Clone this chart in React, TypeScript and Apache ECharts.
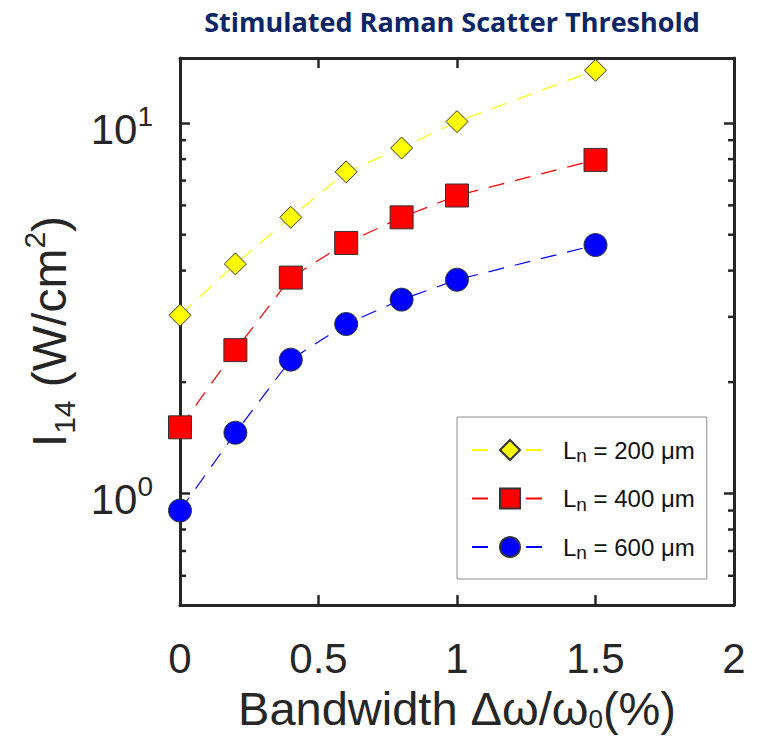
import React, { useEffect, useRef } from "react";
import * as echarts from "echarts";

const TITLE = "Stimulated Raman Scatter Threshold";
const X_VALUES = [0, 0.2, 0.4, 0.6, 0.8, 1, 1.5];
const SERIES_NAMES = ["Ln = 200 μm", "Ln = 400 μm", "Ln = 600 μm"];
const L200 = [3.03, 4.17, 5.57, 7.39, 8.57, 10.1, 13.9];
const L400 = [1.51, 2.44, 3.83, 4.75, 5.57, 6.38, 7.96];
const L600 = [0.9, 1.46, 2.3, 2.87, 3.34, 3.78, 4.69];
const X_MIN = 0;
const X_MAX = 2;
const X_INTERVAL = 0.5;
const Y_MIN = 0.5;
const Y_MAX = 15;
const MINOR_TICKS = [0.6, 0.7, 0.8, 0.9, 2, 3, 4, 5, 6, 7, 8, 9];

const FONT = "'Liberation Sans', Arial, sans-serif";
const INK = "#262626";

export default function App() {
  const ref = useRef<HTMLDivElement>(null);
  useEffect(() => {
    if (!ref.current) return;
    const chart = echarts.init(ref.current, null, { renderer: "svg" });
    const pairs = (ys: number[]) => X_VALUES.map((x, i) => [x, ys[i]]);
    const axisLine = { show: true, onZero: false, lineStyle: { color: INK, width: 3 } };
    const majorTick = { show: true, inside: true, length: 10, lineStyle: { color: INK, width: 2.5 } };
    const yFormatter = (v: number) => {
      const l = Math.log10(v);
      const e = Math.round(l);
      if (Math.abs(l - e) < 1e-6) return `10{sup|${e}}`;
      return "";
    };
    const mk = (name: string, ys: number[], color: string, symbol: string, size: number) => ({
      type: "line",
      name,
      data: pairs(ys),
      xAxisIndex: 0,
      yAxisIndex: 0,
      symbol,
      symbolSize: size,
      showSymbol: true,
      clip: false,
      lineStyle: { color, width: 1.2, type: [16, 11] },
      itemStyle: { color, borderColor: "#333333", borderWidth: 1 },
      z: 6,
    });
    const option: any = {
      animation: false,
      backgroundColor: "#ffffff",
      graphic: [
        {
          type: "text",
          x: 452,
          y: 21,
          style: {
            text: TITLE,
            textAlign: "center",
            textVerticalAlign: "middle",
            fill: "#0b2566",
            font: "bold 27px 'Open Sans', sans-serif",
          },
        },
      ],
      grid: { left: 180, right: 35, top: 58, bottom: 128, containLabel: false },
      xAxis: [
        {
          type: "value",
          min: X_MIN,
          max: X_MAX,
          interval: X_INTERVAL,
          position: "bottom",
          axisLine,
          axisTick: majorTick,
          splitLine: { show: false },
          axisLabel: {
            fontFamily: FONT,
            fontSize: 42,
            color: INK,
            margin: 32,
            formatter: (v: number) => String(v),
          },
          name: "Bandwidth Δω/ω{sub|0}(%)",
          nameLocation: "middle",
          nameGap: 75,
          nameTextStyle: {
            fontFamily: FONT,
            fontSize: 47,
            lineHeight: 48,
            color: INK,
            rich: {
              sub: { fontFamily: FONT, fontSize: 26, lineHeight: 24, verticalAlign: "bottom", color: INK },
            },
          },
        },
        {
          type: "value",
          min: X_MIN,
          max: X_MAX,
          interval: X_INTERVAL,
          position: "top",
          axisLine,
          axisTick: majorTick,
          axisLabel: { show: false },
          splitLine: { show: false },
        },
      ],
      yAxis: [
        {
          type: "log",
          logBase: 10,
          min: Y_MIN,
          max: Y_MAX,
          position: "left",
          axisLine,
          axisTick: majorTick,
          splitLine: { show: false },
          axisLabel: {
            formatter: yFormatter,
            fontFamily: FONT,
            fontSize: 42,
            lineHeight: 54,
            color: INK,
            margin: 27,
            padding: [12, 0, 0, 0],
            rich: {
              sup: { fontFamily: FONT, fontSize: 28, lineHeight: 28, verticalAlign: "top", color: INK },
            },
          },
          name: "I{sub|14} (W/cm{sup|2})",
          nameLocation: "middle",
          nameGap: 98,
          nameTextStyle: {
            fontFamily: FONT,
            fontSize: 48,
            lineHeight: 60,
            color: INK,
            rich: {
              sub: { fontFamily: FONT, fontSize: 30, lineHeight: 30, verticalAlign: "bottom", color: INK },
              sup: { fontFamily: FONT, fontSize: 30, lineHeight: 28, verticalAlign: "top", color: INK },
            },
          },
        },
        {
          type: "log",
          logBase: 10,
          min: Y_MIN,
          max: Y_MAX,
          position: "right",
          axisLine,
          axisTick: majorTick,
          axisLabel: { show: false },
          splitLine: { show: false },
        },
      ],
      legend: {
        data: SERIES_NAMES,
        orient: "vertical",
        left: 457,
        top: 417,
        padding: [18, 12, 17, 14],
        itemWidth: 76,
        itemHeight: 25,
        itemGap: 18.5,
        borderColor: "#8c8c8c",
        borderWidth: 1,
        backgroundColor: "#ffffff",
        formatter: (name: string) => name.replace("Ln", "L{sub|n}"),
        textStyle: {
          fontFamily: FONT,
          fontSize: 24,
          lineHeight: 30,
          color: "#111111",
          padding: [0, 0, 0, 10],
          rich: {
            sub: { fontFamily: FONT, fontSize: 19, lineHeight: 13, verticalAlign: "bottom", color: "#111111" },
          },
        },
      },
      series: [
        mk(SERIES_NAMES[0], L200, "#ffff00", "diamond", 22),
        mk(SERIES_NAMES[1], L400, "#ff0000", "rect", 23),
        mk(SERIES_NAMES[2], L600, "#0000ff", "circle", 23),
        {
          type: "custom",
          name: "minorTicks",
          xAxisIndex: 0,
          yAxisIndex: 0,
          silent: true,
          clip: false,
          z: 5,
          encode: { x: 0, y: 1 },
          data: MINOR_TICKS.map((v) => [X_MIN, v]),
          renderItem: (params: any, api: any) => {
            const v = api.value(1);
            const p = api.coord([X_MIN, v]);
            const cs = params.coordSys;
            const len = 6;
            const st = { stroke: INK, lineWidth: 2.5 };
            return {
              type: "group",
              children: [
                { type: "line", shape: { x1: cs.x, y1: p[1], x2: cs.x + len, y2: p[1] }, style: st },
                { type: "line", shape: { x1: cs.x + cs.width - len, y1: p[1], x2: cs.x + cs.width, y2: p[1] }, style: st },
              ],
            };
          },
        },
      ],
    };
    chart.setOption(option);
    return () => chart.dispose();
  }, []);
  return (
    <div
      ref={ref}
      style={{ position: "fixed", left: 0, top: 0, width: 769, height: 737, background: "#fff" }}
    />
  );
}
